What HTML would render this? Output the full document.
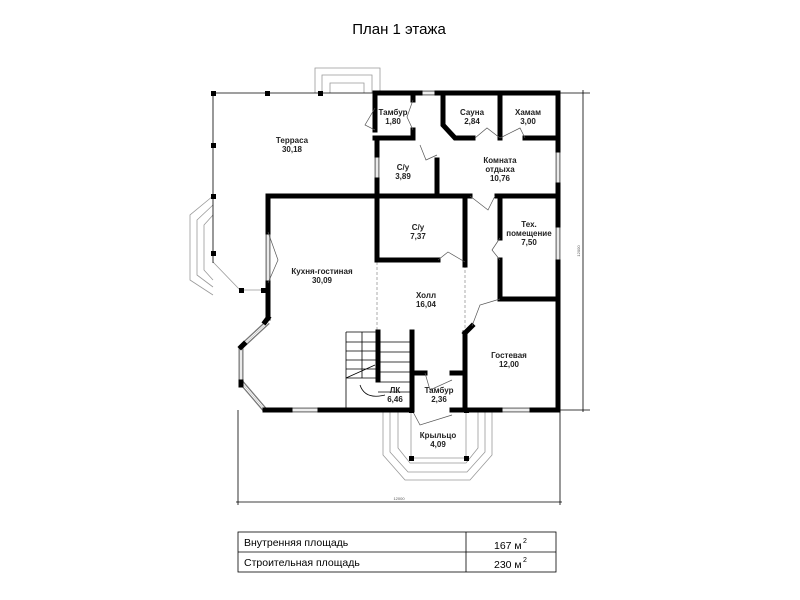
<!DOCTYPE html><html><head><meta charset="utf-8"><style>body{margin:0;background:#fff}svg{display:block}text{font-family:"Liberation Sans",sans-serif}</style></head><body>
<svg width="800" height="600" viewBox="0 0 800 600" xmlns="http://www.w3.org/2000/svg">
<text x="399" y="34" font-size="15" text-anchor="middle">План 1 этажа</text>
<g fill="none" stroke="#999" stroke-width="0.8">
<path d="M315 93V68H380V93M322 93V75H372V93M330 93V83H364V93"/>
<path d="M213 196L190 215V280L213 295M213 205L197 220V275L213 287M213 215L204 225V270L213 280"/>
<path d="M213 262L240 290H268"/>
<path d="M383 410V455L405 480H470L492 455V410M390 410V452L408 472H467L485 452V410M398 410V448L410 463H466L478 448V410"/>
<path d="M411 410V458H466V410"/>
</g>
<g stroke="#000" stroke-width="0.8" fill="none">
<path d="M213 93H373M213 93V263"/>
<path d="M560 93H590M583 90V412M560 410H590"/>
<path d="M238 410V505M560 410V505M236 502H562"/>
<path d="M346 332V410M346 332H378M346 342H378M346 351H378M346 360H378M346 369H378M346 378H378M362 332V378M346 378L375 365"/>
<path d="M378 342H410M378 352H410M378 362H410M378 372H410M378 382H410M378 392H410"/>
<path d="M360 385Q365 400 385 395"/>
</g>
<g stroke="#888" stroke-width="0.7" stroke-dasharray="3,2"><path d="M377 262V330M465 265V330"/></g>
<g fill="none">
<path stroke="#777" stroke-width="5" d="M420 93H437M558 150V185M558 225V262M268 232V283M268 322L241 347V382L265 410M290 410H320M500 410H532M377 155V180"/>
<path stroke="#fff" stroke-width="2.4" d="M420 93H437M558 150V185M558 225V262M268 232V283M268 322L241 347V382L265 410M290 410H320M500 410H532M377 155V180"/>
<path stroke="#bbb" stroke-width="0.6" d="M420 93H437M558 150V185M558 225V262M268 232V283M268 322L241 347V382L265 410M290 410H320M500 410H532M377 155V180"/>
</g>
<g stroke="#000" stroke-width="5" fill="none" stroke-linecap="square">
<path d="M375 93H420M437 93H558V150M558 185V225M558 262V410"/>
<path d="M375 95V130M413 95V100M413 130V138H375"/>
<path d="M443 95V125L455 138H473M500 95V138M525 138H556"/>
<path d="M377 140V155M377 180V195M437 160V195"/>
<path d="M268 196H470M497 196H556"/>
<path d="M268 196V232M268 283V318M268 318L265 322M241 347L244 344M241 382V385M265 410H290M320 410H412M452 410H500M532 410H556"/>
<path d="M377 198V260H438M465 198V265"/>
<path d="M500 198V238M500 260V299H556"/>
<path d="M465 333V410M465 333L472 326"/>
<path d="M378 332V380M412 332V410M412 373H425M452 373H465"/>
</g>
<g stroke="#555" stroke-width="0.7" fill="none">
<path d="M375 130L365 125L375 108M413 100L407 117L413 130M437 155L426 160L420 145M470 196L488 210L495 196M438 260L448 252L465 262M500 238L492 250L500 260M472 326L480 305L500 299M425 373L430 390L452 380M412 410L420 425L452 415M475 138L487 128L500 138M500 138L520 128L525 138"/>
<path d="M268 232L278 260L268 283"/>
</g>
<g fill="#000"><rect x="211" y="91" width="5" height="5"/><rect x="265" y="91" width="5" height="5"/><rect x="318" y="91" width="5" height="5"/><rect x="211" y="143" width="5" height="5"/><rect x="211" y="194" width="5" height="5"/><rect x="211" y="251" width="5" height="5"/><rect x="239" y="288" width="5" height="5"/><rect x="261" y="288" width="5" height="5"/><rect x="409" y="408" width="5" height="5"/><rect x="464" y="408" width="5" height="5"/><rect x="409" y="456" width="5" height="5"/><rect x="464" y="456" width="5" height="5"/></g>
<g font-size="8" font-weight="bold" text-anchor="middle" fill="#222">
<text x="292" y="143">Терраса</text><text x="292" y="152">30,18</text>
<text x="393" y="115">Тамбур</text><text x="393" y="124">1,80</text>
<text x="472" y="115">Сауна</text><text x="472" y="124">2,84</text>
<text x="528" y="115">Хамам</text><text x="528" y="124">3,00</text>
<text x="403" y="170">С/у</text><text x="403" y="179">3,89</text>
<text x="500" y="163">Комната</text><text x="500" y="172">отдыха</text><text x="500" y="181">10,76</text>
<text x="418" y="230">С/у</text><text x="418" y="239">7,37</text>
<text x="529" y="227">Тех.</text><text x="529" y="236">помещение</text><text x="529" y="245">7,50</text>
<text x="322" y="274">Кухня-гостиная</text><text x="322" y="283">30,09</text>
<text x="426" y="298">Холл</text><text x="426" y="307">16,04</text>
<text x="509" y="358">Гостевая</text><text x="509" y="367">12,00</text>
<text x="395" y="393">ЛК</text><text x="395" y="402">6,46</text>
<text x="439" y="393">Тамбур</text><text x="439" y="402">2,36</text>
<text x="438" y="438">Крыльцо</text><text x="438" y="447">4,09</text>
</g>
<text x="399" y="500" font-size="4" text-anchor="middle" fill="#555">12000</text>
<text x="580" y="251" font-size="4" text-anchor="middle" fill="#555" transform="rotate(-90 580 251)">12000</text>
<g stroke="#000" stroke-width="0.8" fill="none"><rect x="238" y="532" width="318" height="40"/><path d="M238 552H556M466 532V572"/></g>
<g font-size="10.5" fill="#000"><text x="244" y="546">Внутренняя площадь</text><text x="244" y="566">Строительная площадь</text>
<text x="494" y="549">167 м</text><text x="523" y="543" font-size="7">2</text>
<text x="494" y="568">230 м</text><text x="523" y="562" font-size="7">2</text></g>
</svg></body></html>
